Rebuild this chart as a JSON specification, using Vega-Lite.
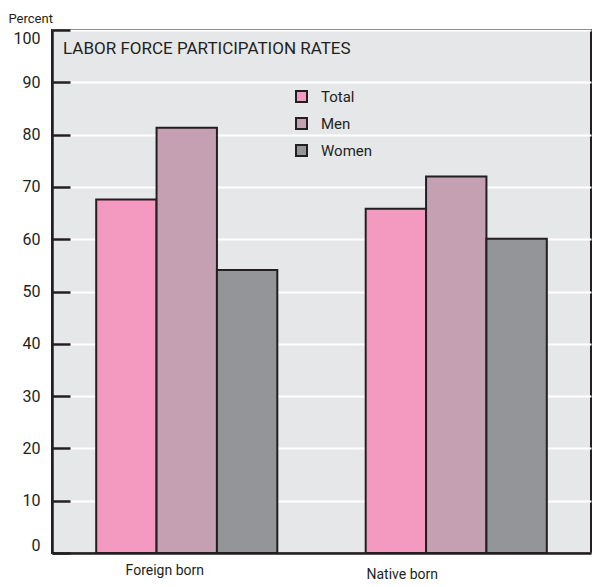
{
  "$schema": "https://vega.github.io/schema/vega-lite/v6.json",
  "autosize": "none",
  "width": 539,
  "height": 523,
  "padding": {"left": 52, "top": 30, "right": 1, "bottom": 34},
  "background": "white",
  "title": {
    "text": "LABOR FORCE PARTICIPATION RATES",
    "anchor": "start",
    "frame": "group",
    "orient": "top",
    "offset": -21,
    "dx": 11,
    "dy": 38,
    "baseline": "alphabetic",
    "font": "Roboto, sans-serif",
    "fontSize": 17,
    "fontWeight": "normal",
    "color": "#231f20"
  },
  "config": {
    "view": {"fill": "#e6e7e8", "stroke": "#231f20", "strokeWidth": 2},
    "font": "Roboto, sans-serif"
  },
  "data": {
    "values": [
      {"group": "Foreign born", "series": "Total", "value": 67.6},
      {"group": "Foreign born", "series": "Men", "value": 81.3},
      {"group": "Foreign born", "series": "Women", "value": 54.1},
      {"group": "Native born", "series": "Total", "value": 65.8},
      {"group": "Native born", "series": "Men", "value": 72.0},
      {"group": "Native born", "series": "Women", "value": 60.1}
    ]
  },
  "mark": {"type": "bar", "stroke": "#231f20", "strokeWidth": 2},
  "encoding": {
    "x": {
      "field": "group",
      "type": "nominal",
      "scale": {"paddingInner": 0.328, "paddingOuter": 0.164},
      "axis": {
        "title": null,
        "labelAngle": 0,
        "labelFontSize": 14,
        "labelColor": "#231f20",
        "labelPadding": {"condition": {"test": "datum.label == 'Native born'", "value": 14}, "value": 10},
        "labelOffset": {"condition": {"test": "datum.label == 'Native born'", "value": -54}, "value": -22},
        "ticks": false,
        "domainColor": "#231f20",
        "domainWidth": 2.5
      }
    },
    "xOffset": {"field": "series", "type": "nominal", "sort": ["Total", "Men", "Women"]},
    "y": {
      "field": "value",
      "type": "quantitative",
      "scale": {"domain": [0, 100], "nice": false},
      "axis": {
        "title": "Percent",
        "titleAngle": 0,
        "titleAlign": "left",
        "titleBaseline": "alphabetic",
        "titleX": -44,
        "titleY": -8,
        "titleFontSize": 13,
        "titleFontWeight": "normal",
        "titleColor": "#231f20",
        "values": [0, 10, 20, 30, 40, 50, 60, 70, 80, 90, 100],
        "labelFontSize": 16,
        "labelColor": "#231f20",
        "labelPadding": 30,
        "labelFlush": true,
        "tickSize": -18,
        "tickWidth": 2.5,
        "tickColor": "#231f20",
        "gridColor": "white",
        "gridWidth": 2,
        "gridOpacity": 1,
        "domainColor": "#231f20",
        "domainWidth": 2.5
      }
    },
    "fill": {
      "field": "series",
      "type": "nominal",
      "sort": ["Total", "Men", "Women"],
      "scale": {"domain": ["Total", "Men", "Women"], "range": ["#f49ac1", "#c4a0b2", "#939598"]},
      "legend": {
        "title": null,
        "orient": "none",
        "legendX": 242,
        "legendY": 59,
        "padding": 0,
        "symbolType": "square",
        "symbolSize": 121,
        "symbolStrokeColor": "#231f20",
        "symbolStrokeWidth": 2,
        "labelFontSize": 15,
        "labelColor": "#231f20",
        "labelOffset": 12,
        "rowPadding": 8
      }
    }
  }
}
